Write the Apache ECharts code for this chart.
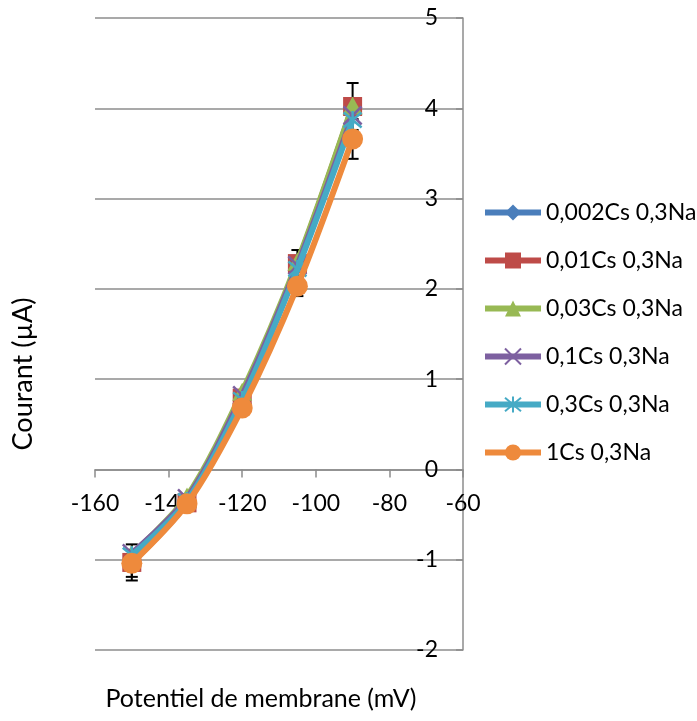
<!DOCTYPE html>
<html>
<head>
<meta charset="utf-8">
<script src="https://cdn.jsdelivr.net/npm/echarts@6/dist/echarts.min.js"></script>
<style>html,body{margin:0;padding:0;background:#fff}#c{width:697px;height:721px}</style>
</head>
<body>
<div id="c"></div>
<script>
const potentials = [-150, -135, -120, -105, -90];
const seriesNames = ['0,002Cs 0,3Na', '0,01Cs 0,3Na', '0,03Cs 0,3Na', '0,1Cs 0,3Na', '0,3Cs 0,3Na', '1Cs 0,3Na'];
const cs0002 = [-0.97, -0.33, 0.80, 2.25, 3.98];
const cs001 = [-1.03, -0.37, 0.79, 2.28, 4.02];
const cs003 = [-0.94, -0.30, 0.86, 2.30, 4.03];
const cs01 = [-0.93, -0.32, 0.82, 2.26, 3.92];
const cs03 = [-0.95, -0.35, 0.77, 2.22, 3.87];
const cs1 = [-1.04, -0.38, 0.68, 2.03, 3.66];
const err001 = [0.20, 0.05, 0.05, 0.15, 0.26];
const err1 = [0.15, 0.05, 0.05, 0.11, 0.22];
const xTicks = [-160, -140, -120, -100, -80, -60];
const yTicks = [-2, -1, 0, 1, 2, 3, 4, 5];

const FONT = 'Lato';
const colors = ['#4A7EBB', '#BE4B48', '#98B954', '#7D60A0', '#46AAC5', '#EE8A3C'];
const symbols = ['diamond', 'rect', 'triangle',
  'path://M0,0L10,10M10,0L0,10',
  'path://M0,0L10,10M10,0L0,10M5,-1L5,11',
  'circle'];
const symbolSizes = [[15, 19], 19, [20, 18], 18, 18, 21];
const allValues = [cs0002, cs001, cs003, cs01, cs03, cs1];

const pairs = arr => potentials.map((x, i) => [x, arr[i]]);

const lineSeries = allValues.map((vals, k) => {
  const stroked = k === 3 || k === 4;
  return {
    name: seriesNames[k],
    type: 'line',
    data: pairs(vals),
    smooth: 0.3,
    symbol: symbols[k],
    symbolSize: symbolSizes[k],
    showAllSymbol: true,
    lineStyle: { color: colors[k], width: 6 },
    itemStyle: stroked
      ? { color: colors[k], borderColor: colors[k], borderWidth: 2.5 }
      : { color: colors[k], borderWidth: 0 },
    z: 3 + k
  };
});

function errSeries(vals, errs) {
  return {
    type: 'custom',
    silent: true,
    z: 2,
    data: potentials.map((x, i) => [x, vals[i], errs[i]]),
    renderItem: (params, api) => {
      const x = api.value(0), y = api.value(1), e = api.value(2);
      const top = api.coord([x, y + e]);
      const bot = api.coord([x, y - e]);
      const hw = 6;
      const st = { stroke: '#000', lineWidth: 2 };
      return {
        type: 'group',
        children: [
          { type: 'line', shape: { x1: top[0], y1: top[1], x2: bot[0], y2: bot[1] }, style: st },
          { type: 'line', shape: { x1: top[0] - hw, y1: top[1], x2: top[0] + hw, y2: top[1] }, style: st },
          { type: 'line', shape: { x1: bot[0] - hw, y1: bot[1], x2: bot[0] + hw, y2: bot[1] }, style: st }
        ]
      };
    }
  };
}

const chart = echarts.init(document.getElementById('c'), null, { renderer: 'canvas' });
chart.setOption({
  animation: false,
  backgroundColor: '#fff',
  textStyle: { fontFamily: FONT },
  grid: { left: 95, right: 234, top: 18, bottom: 71, containLabel: false },
  xAxis: {
    type: 'value',
    min: xTicks[0], max: xTicks[xTicks.length - 1], interval: 20,
    offset: -180.5,
    axisLine: { onZero: false, lineStyle: { color: '#8C8C8C', width: 1.5 } },
    axisTick: { show: true, length: 8, lineStyle: { color: '#8C8C8C', width: 1.5 } },
    splitLine: { show: false },
    axisLabel: { color: '#000', fontSize: 23, fontFamily: FONT, margin: 23 }
  },
  yAxis: {
    type: 'value',
    position: 'right',
    min: yTicks[0], max: yTicks[yTicks.length - 1], interval: 1,
    axisLine: { show: true, onZero: false, lineStyle: { color: '#8C8C8C', width: 1.5 } },
    axisTick: { show: true, inside: true, length: 7, lineStyle: { color: '#8C8C8C', width: 1.5 } },
    splitLine: { show: true, lineStyle: { color: '#8C8C8C', width: 1.5 } },
    axisLabel: { inside: true, color: '#000', fontSize: 23, fontFamily: FONT, margin: 25, align: 'right' }
  },
  legend: {
    orient: 'vertical',
    left: 477,
    top: 196,
    itemWidth: 56,
    itemHeight: 20,
    itemGap: 25,
    data: seriesNames,
    lineStyle: { width: 6 },
    textStyle: { color: '#000', fontSize: 23, fontFamily: FONT }
  },
  graphic: [
    {
      type: 'text',
      x: 23, y: 374,
      rotation: Math.PI / 2,
      style: { text: 'Courant (µA)', fontSize: 27, fontFamily: FONT, fill: '#000', align: 'center', verticalAlign: 'middle' }
    },
    {
      type: 'text',
      x: 261, y: 699,
      style: { text: 'Potentiel de membrane (mV)', fontSize: 25, fontFamily: FONT, fill: '#000', align: 'center', verticalAlign: 'middle' }
    }
  ],
  series: [errSeries(cs001, err001), errSeries(cs1, err1)].concat(lineSeries)
});
</script>
</body>
</html>
